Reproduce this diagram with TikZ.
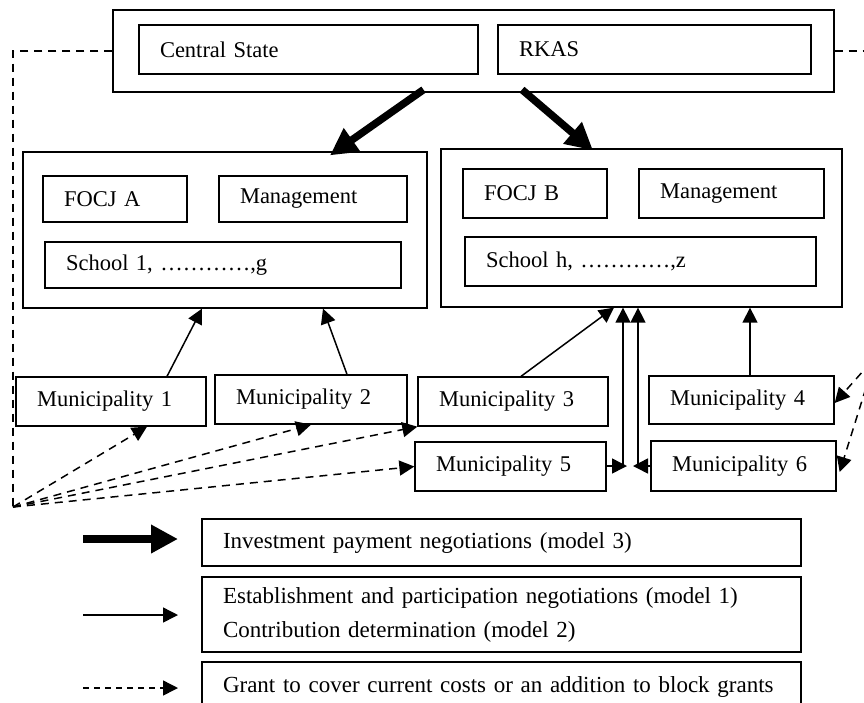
\documentclass[tikz,border=0pt]{standalone}
\usepackage{fontspec}
\setmainfont{Liberation Serif}
\usetikzlibrary{arrows.meta,calc}
\tikzset{
  box/.style={draw, line width=1.3pt, inner xsep=21pt, inner ysep=0pt, align=left,
    font=\fontsize{22.5}{27}\selectfont},
  lbox/.style={box, font=\fontsize{23}{34}\selectfont},
  bigarrow/.style={line width=7.5pt, -{Triangle[length=27pt,width=27pt]}},
  thinarrow/.style={line width=1.5pt, -{Triangle[length=15pt,width=15pt]}},
  dashline/.style={line width=1.5pt, dash pattern=on 8pt off 6pt},
  dasharrow/.style={dashline, -{Triangle[length=15pt,width=15pt]}},
}
\newcommand{\mybox}[7][box]{%
  \pgfmathsetmacro{\mybw}{#5-#3}\pgfmathsetmacro{\mybh}{#6-#4}%
  \pgfmathsetmacro{\mytw}{#5-#3-42}%
  \pgfmathsetmacro{\mycx}{(#3+#5)/2}\pgfmathsetmacro{\mycy}{(#4+#6)/2}%
  \node[#1, minimum width=\mybw pt, minimum height=\mybh pt, text width=\mytw pt] (#2) at (\mycx,\mycy) {#7};}
\begin{document}
\begin{tikzpicture}[x=1pt,y=-1pt]
\clip (0,0) rectangle (864,702);
% top
\mybox{top}{113}{10}{834}{92}{}
\mybox{cs}{139}{25}{478}{74}{Central State}
\mybox{rkas}{498}{25}{811}{74}{RKAS}
% FOCJ A
\mybox{focja}{23}{152}{427}{308}{}
\mybox{fa}{43}{176}{187}{222}{FOCJ A}
\mybox{ma}{219}{176}{407}{222}{Management}
\mybox{sa}{45}{242}{401}{288}{School 1, …………,g}
% FOCJ B
\mybox{focjb}{441}{149}{842}{307}{}
\mybox{fb}{463}{169}{607}{218}{FOCJ B}
\mybox{mb}{639}{169}{824}{218}{Management}
\mybox{sb}{465}{237}{816}{286}{School h, …………,z}
% municipalities
\mybox{m1}{16}{377}{206}{426}{Municipality 1}
\mybox{m2}{215}{375}{407}{424}{Municipality 2}
\mybox{m3}{418}{377}{608}{426}{Municipality 3}
\mybox{m4}{649}{376}{834}{424}{Municipality 4}
\mybox{m5}{415}{442}{606}{491}{Municipality 5}
\mybox{m6}{651}{441}{836}{491}{Municipality 6}
% legend boxes
\mybox[lbox]{l1}{202}{519}{801}{566}{Investment payment negotiations (model 3)}
\mybox[lbox]{l2}{202}{577}{801}{652}{Establishment and participation negotiations (model 1)\\Contribution determination (model 2)}
\mybox[lbox]{l3}{202}{662}{801}{712}{Grant to cover current costs or an addition to block grants}
% thick arrows
\draw[bigarrow] ([xshift=-50pt,yshift=3pt]top.south) -- ([xshift=105pt,yshift=-4pt]focja.north);
\draw[bigarrow] ([xshift=48.5pt,yshift=3pt]top.south) -- ([xshift=-48.5pt,yshift=-2pt]focjb.north);
% thin arrows
\draw[thinarrow] ([xshift=56pt]m1.north) -- ([xshift=-23pt]focja.south);
\draw[thinarrow] ([xshift=36pt]m2.north) -- ([xshift=98pt]focja.south);
\draw[thinarrow] ([xshift=8pt]m3.north) -- ([xshift=-27.5pt]focjb.south);
\coordinate (j1) at (623,466);
\coordinate (j2) at (638,466);
\draw[thinarrow] (j1) -- (j1 |- focjb.south);
\draw[thinarrow] (j2) -- (j2 |- focjb.south);
\draw[thinarrow] (m5.east |- j1) -- ([xshift=4pt]j1);
\draw[thinarrow] (m6.west |- j2) -- ([xshift=-5pt]j2);
\draw[thinarrow] ([xshift=8.5pt]m4.north) -- ([xshift=8.5pt]m4.north |- focjb.south);
% dashed lines
\coordinate (fan) at (13,507);
\draw[dashline] (top.west) -| (fan);
\coordinate (rtop) at (880,51);
\draw[dashline] (top.east) -- (rtop);
\draw[dasharrow] (fan) -- ([xshift=36pt]m1.south);
\draw[dasharrow] (fan) -- (m2.south);
\draw[dasharrow] (fan) -- (m3.south west);
\draw[dasharrow] (fan) -- (m5.west);
\coordinate (r1) at (880,352);
\coordinate (r2) at (870,375);
\draw[dasharrow] (r1) -- ([yshift=-3pt]m4.east);
\draw[dasharrow] (r2) -- ([xshift=3pt,yshift=-6pt]m6.east);
% legend arrows
\coordinate (la1) at (83,539); \coordinate (lb1) at (178,539);
\coordinate (la2) at (83,615); \coordinate (lb2) at (178,615);
\coordinate (la3) at (83,688); \coordinate (lb3) at (178,688);
\draw[bigarrow] (la1) -- (lb1);
\draw[thinarrow] (la2) -- (lb2);
\draw[line width=1.5pt, dash pattern=on 6pt off 5pt, -{Triangle[length=15pt,width=15pt]}] (la3) -- (lb3);
\end{tikzpicture}
\end{document}
